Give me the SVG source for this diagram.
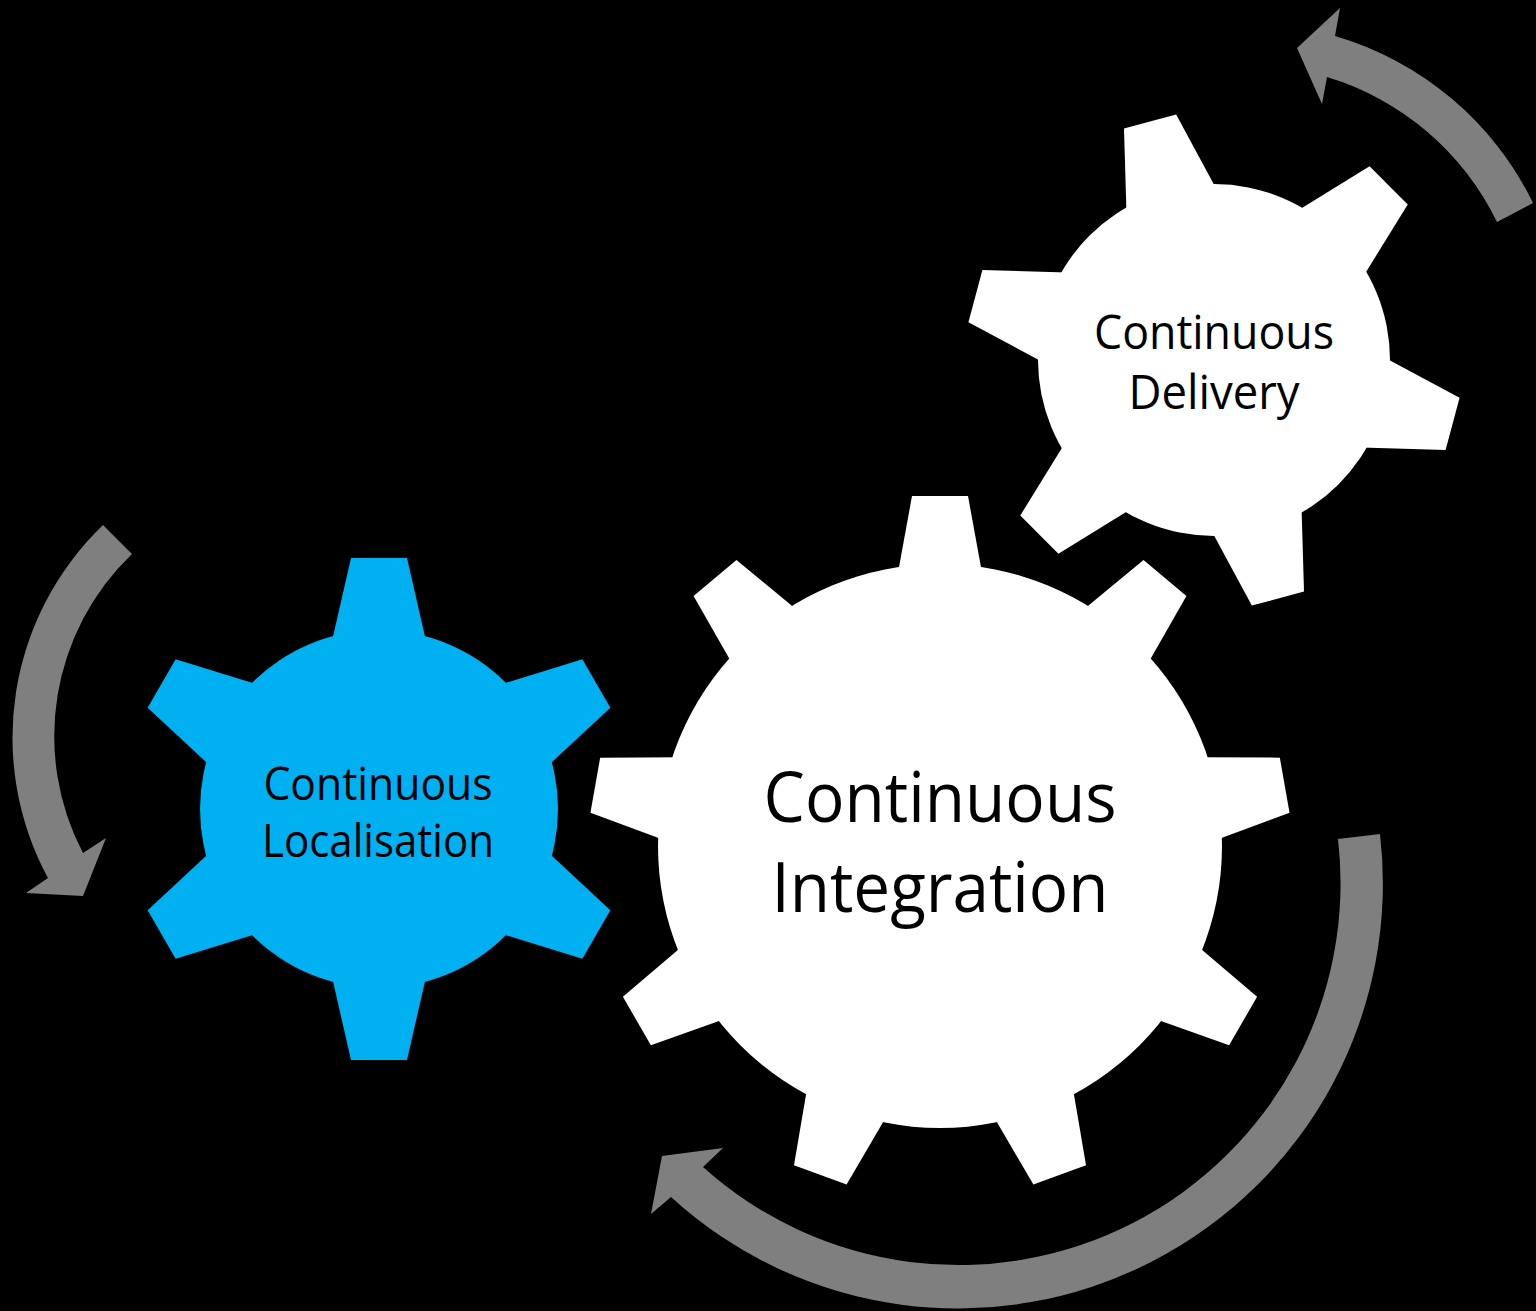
<svg xmlns="http://www.w3.org/2000/svg" xmlns:xlink="http://www.w3.org/1999/xlink" width="1536" height="1311" viewBox="0 0 1536 1311">
<style>
.white{fill:#ffffff}
.blue{fill:#00b0f0}
.arrow{fill:#7f7f7f}
.label{font-family:"Open Sans","Noto Sans","Liberation Sans",sans-serif;fill:#000000;text-anchor:middle}
</style>
<defs>
<polygon id="toothL" points="-42.6,-270 -28,-350 28,-350 42.6,-270"/>
<polygon id="toothS" points="-47,-168 -28,-251 28,-251 47,-168"/>
<polygon id="toothD" points="-46.4,-165 -27,-247 27,-247 46.4,-165"/>
</defs>
<rect x="0" y="0" width="1536" height="1311" fill="#000000"/>
<g id="connectors">
<path class="arrow" d="M1497,222 L1533,203 A320,320 0 0 0 1335,36 L1340,8 L1297,48 L1322,104 L1327,77 A278,278 0 0 1 1497,222 Z"/>
<path class="arrow" d="M132,554 L103,525 A295,295 0 0 0 48,878 L26,893 L83,896 L106,838 L83,853 A252,252 0 0 1 132,554 Z"/>
<path class="arrow" d="M1338,839 L1380,834 A425,425 0 0 1 671,1197 L651,1214 L662,1156 L723,1148 L703,1167 A382,382 0 0 0 1338,839 Z"/>
</g>
<g id="gear-delivery">
<g class="white" transform="translate(1214,360)">
<circle cx="0" cy="0" r="176"/>
<use xlink:href="#toothD" transform="rotate(-15)"/>
<use xlink:href="#toothD" transform="rotate(45)"/>
<use xlink:href="#toothD" transform="rotate(105)"/>
<use xlink:href="#toothD" transform="rotate(165)"/>
<use xlink:href="#toothD" transform="rotate(225)"/>
<use xlink:href="#toothD" transform="rotate(285)"/>
</g>
<text class="label" x="1214" y="349" font-size="48" textLength="240" lengthAdjust="spacingAndGlyphs">Continuous</text>
<text class="label" x="1214" y="409" font-size="48" textLength="171" lengthAdjust="spacingAndGlyphs">Delivery</text>
</g>
<g id="gear-localisation">
<g class="blue" transform="translate(379,809)">
<circle cx="0" cy="0" r="179"/>
<use xlink:href="#toothS" transform="rotate(0)"/>
<use xlink:href="#toothS" transform="rotate(60)"/>
<use xlink:href="#toothS" transform="rotate(120)"/>
<use xlink:href="#toothS" transform="rotate(180)"/>
<use xlink:href="#toothS" transform="rotate(240)"/>
<use xlink:href="#toothS" transform="rotate(300)"/>
</g>
<text class="label" x="378" y="800" font-size="45" textLength="229" lengthAdjust="spacingAndGlyphs">Continuous</text>
<text class="label" x="378" y="857" font-size="45" textLength="232" lengthAdjust="spacingAndGlyphs">Localisation</text>
</g>
<g id="gear-integration">
<g class="white" transform="translate(940,846)">
<circle cx="0" cy="0" r="282"/>
<use xlink:href="#toothL" transform="rotate(0)"/>
<use xlink:href="#toothL" transform="rotate(40)"/>
<use xlink:href="#toothL" transform="rotate(80)"/>
<use xlink:href="#toothL" transform="rotate(120)"/>
<use xlink:href="#toothL" transform="rotate(160)"/>
<use xlink:href="#toothL" transform="rotate(200)"/>
<use xlink:href="#toothL" transform="rotate(240)"/>
<use xlink:href="#toothL" transform="rotate(280)"/>
<use xlink:href="#toothL" transform="rotate(320)"/>
</g>
<text class="label" x="940" y="822" font-size="70" textLength="353" lengthAdjust="spacingAndGlyphs">Continuous</text>
<text class="label" x="940" y="912" font-size="70" textLength="337" lengthAdjust="spacingAndGlyphs">Integration</text>
</g>
</svg>
